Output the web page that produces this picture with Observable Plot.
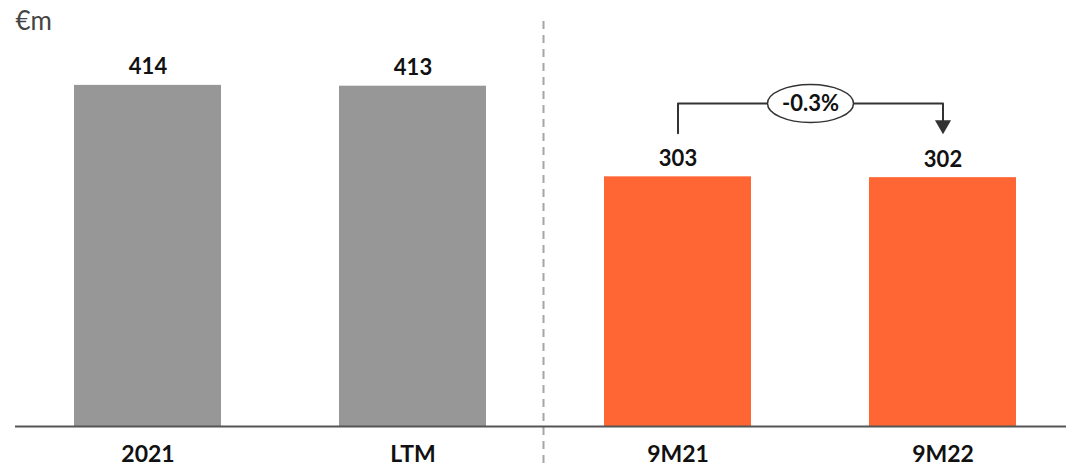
<!DOCTYPE html>
<html>
<head>
<meta charset="utf-8">
<script src="https://cdn.jsdelivr.net/npm/d3@7"></script>
<script src="https://cdn.jsdelivr.net/npm/@observablehq/plot@0.6"></script>
<style>
  html, body { margin: 0; padding: 0; background: #fff; }
  #chart svg { display: block; }
</style>
</head>
<body>
<div id="chart"></div>
<script>
const categories = ["2021", "LTM", "9M21", "9M22"];
const values = [414, 413, 303, 302];
const groups = ["annual", "annual", "nine", "nine"];
const unitLabel = "€m";
const changeLabel = "-0.3%";
const changeFrom = "9M21";
const changeTo = "9M22";
const dividerAfter = "LTM";

const data = categories.map((c, i) => ({cat: c, value: values[i], group: groups[i]}));
const fromVal = values[categories.indexOf(changeFrom)];

const W = 1066, H = 466;
const step = 265;
const font = "Lato, 'Open Sans', sans-serif";

// bracket levels (relative to bar values)
const bracketTop = fromVal + 89;
const bracketBottom = fromVal + 53;
const arrowBase = fromVal + 68;
const arrowTip = fromVal + 63;

const ellipseSymbol = {
  draw(ctx) {
    const rx = 43, ry = 19, k = 0.5523;
    ctx.moveTo(rx, 0);
    ctx.bezierCurveTo(rx, ry * k, rx * k, ry, 0, ry);
    ctx.bezierCurveTo(-rx * k, ry, -rx, ry * k, -rx, 0);
    ctx.bezierCurveTo(-rx, -ry * k, -rx * k, -ry, 0, -ry);
    ctx.bezierCurveTo(rx * k, -ry, rx, -ry * k, rx, 0);
    ctx.closePath();
  }
};

const chart = Plot.plot({
  width: W,
  height: H,
  marginLeft: 15,
  marginRight: 0,
  marginTop: 0,
  marginBottom: 40,
  style: {fontFamily: font, background: "#fff", overflow: "visible"},
  x: {domain: categories, range: [15, 15 + 4 * step], paddingInner: 0.445, paddingOuter: 0.2225, label: null},
  y: {domain: [0, 517], axis: null},
  color: {domain: ["annual", "nine"], range: ["#979797", "#FF6633"]},
  marks: [
    Plot.barY(data, {x: "cat", y: "value", fill: "group"}),
    Plot.ruleX([dividerAfter], {x: d => d, dx: step / 2 - 2, stroke: "#A6A6A6", strokeWidth: 2, strokeDasharray: "8,6", insetTop: 21, insetBottom: -40}),
    Plot.ruleY([0], {stroke: "#555", strokeWidth: 2}),
    Plot.axisX({tickSize: 0, tickPadding: 19, fontSize: 23, fontWeight: "bold", fill: "#111", label: null}),
    Plot.text(data, {x: "cat", y: "value", text: d => String(d.value), dy: -18, fontSize: 22, fontWeight: "bold", fill: "#111"}),
    Plot.text([unitLabel], {frameAnchor: "top-left", dx: 0, dy: 11, fontSize: 26, fill: "#444", textAnchor: "start"}),
    // bracket
    Plot.line([
      {x: changeFrom, y: bracketBottom},
      {x: changeFrom, y: bracketTop},
      {x: changeTo, y: bracketTop},
      {x: changeTo, y: arrowBase}
    ], {x: "x", y: "y", stroke: "#333", strokeWidth: 2, curve: "linear"}),
    Plot.dot([{x: changeTo, y: arrowTip}], {x: "x", y: "y", symbol: "triangle", r: 6, rotate: 180, fill: "#333", stroke: "none"}),
    Plot.dot([{x: changeFrom, y: bracketTop}], {x: "x", y: "y", dx: step / 2, symbol: ellipseSymbol, fill: "#fff", stroke: "#333", strokeWidth: 1.5}),
    Plot.text([{x: changeFrom, y: bracketTop, t: changeLabel}], {x: "x", y: "y", dx: step / 2, text: "t", fontSize: 22, fontWeight: "bold", fill: "#111"})
  ]
});
document.getElementById("chart").appendChild(chart);
</script>
</body>
</html>
